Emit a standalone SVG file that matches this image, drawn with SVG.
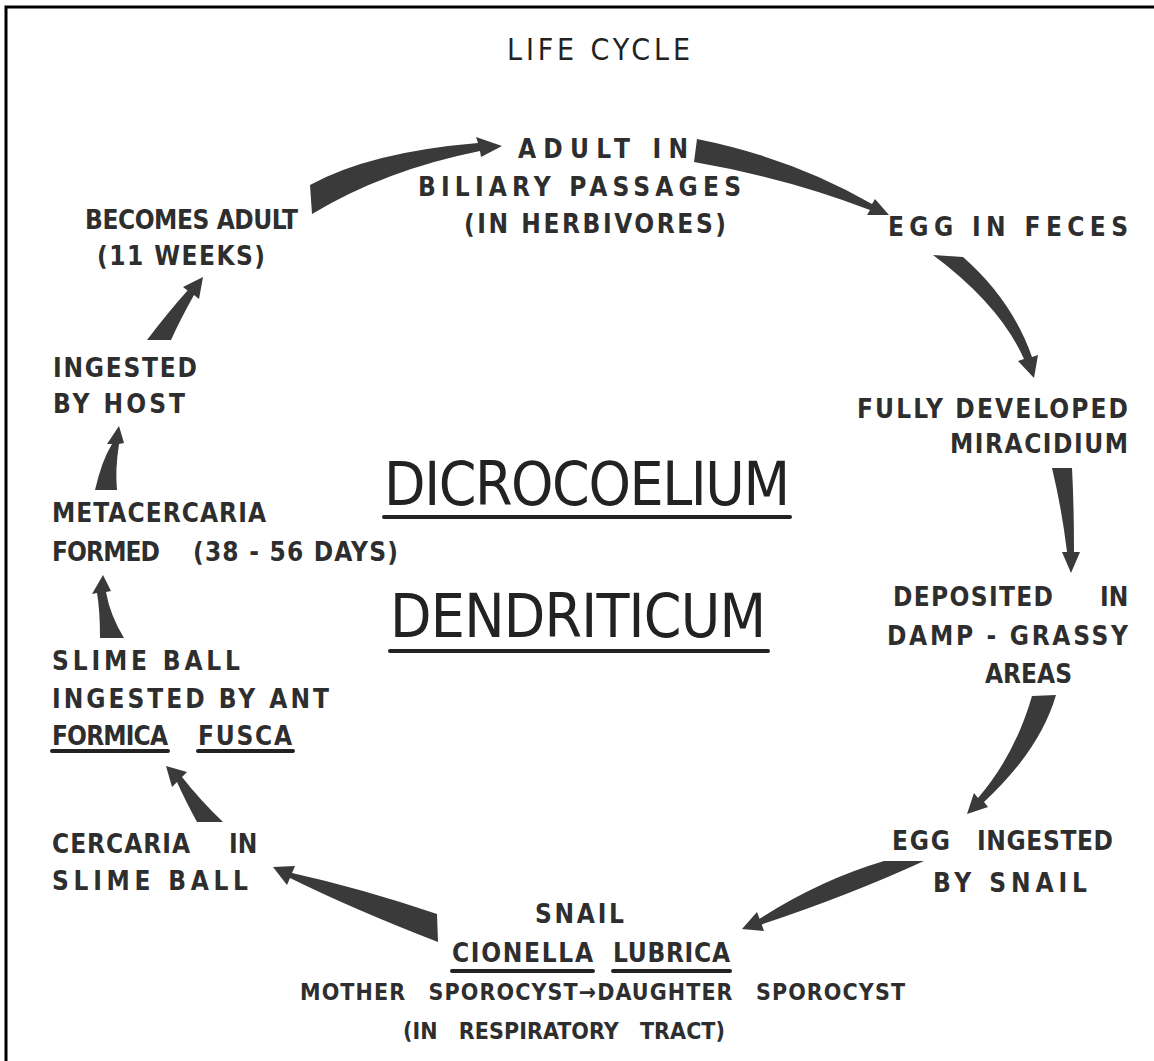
<svg xmlns="http://www.w3.org/2000/svg" width="1154" height="1061" viewBox="0 0 1154 1061">
<style>
.lbl{font-family:"DejaVu Sans Condensed","DejaVu Sans",sans-serif;font-weight:bold;font-size:26px;fill:#2e2e2e}
.sm{font-size:23px;word-spacing:14px}
.title{font-family:"DejaVu Sans Condensed","DejaVu Sans",sans-serif;font-size:30px;fill:#222}
.big{font-family:"DejaVu Sans Condensed","DejaVu Sans",sans-serif;font-size:60px;fill:#222}
.ul{stroke:#222;stroke-width:4;stroke-linecap:round;fill:none}
.arr{fill:#3a3a3a}
</style>
<rect width="1154" height="1061" fill="#fff"/>
<path d="M6,1061 V7 H1154" fill="none" stroke="#000" stroke-width="3"/>

<g id="title"><text class="title" x="507" y="60" textLength="183">LIFE CYCLE</text></g>

<g id="adult">
<text class="lbl" x="518" y="158" textLength="170">ADULT IN</text>
<text class="lbl" x="418" y="196" textLength="323">BILIARY PASSAGES</text>
<text class="lbl" x="464" y="233" textLength="262">(IN HERBIVORES)</text>
</g>
<g id="becomes-adult">
<text class="lbl" x="85" y="229" textLength="213">BECOMES ADULT</text>
<text class="lbl" x="97" y="265" textLength="168">(11 WEEKS)</text>
</g>
<g id="egg-feces"><text class="lbl" x="888" y="236" textLength="240">EGG IN FECES</text></g>
<g id="miracidium">
<text class="lbl" x="857" y="418" textLength="271">FULLY DEVELOPED</text>
<text class="lbl" x="950" y="453" textLength="178">MIRACIDIUM</text>
</g>
<g id="deposited">
<text class="lbl" y="606"><tspan x="893" textLength="160">DEPOSITED</tspan><tspan x="1100">IN</tspan></text>
<text class="lbl" x="887" y="645" textLength="241">DAMP - GRASSY</text>
<text class="lbl" x="985" y="683" textLength="87">AREAS</text>
</g>
<g id="egg-ingested">
<text class="lbl" y="850"><tspan x="892" textLength="58">EGG</tspan><tspan x="977" textLength="136">INGESTED</tspan></text>
<text class="lbl" x="933" y="892" textLength="154">BY SNAIL</text>
</g>
<g id="snail">
<text class="lbl" x="535" y="923" textLength="89">SNAIL</text>
<text class="lbl" y="962"><tspan x="452" textLength="141">CIONELLA</tspan><tspan x="613" textLength="117">LUBRICA</tspan></text>
<path class="ul" d="M452,971 H593 M613,971 H730"/>
<text class="lbl sm" x="300" y="1000" textLength="605">MOTHER SPOROCYST→DAUGHTER SPOROCYST</text>
<text class="lbl sm" x="403" y="1039" textLength="322">(IN RESPIRATORY TRACT)</text>
</g>
<g id="cercaria">
<text class="lbl" y="853"><tspan x="52" textLength="138">CERCARIA</tspan><tspan x="229">IN</tspan></text>
<text class="lbl" x="52" y="890" textLength="196">SLIME BALL</text>
</g>
<g id="slime-ball-ant">
<text class="lbl" x="52" y="670" textLength="188">SLIME BALL</text>
<text class="lbl" x="52" y="708" textLength="277">INGESTED BY ANT</text>
<text class="lbl" y="745"><tspan x="52" textLength="116">FORMICA</tspan><tspan x="198" textLength="94">FUSCA</tspan></text>
<path class="ul" d="M52,751 H168 M198,751 H293"/>
</g>
<g id="metacercaria">
<text class="lbl" x="52" y="522" textLength="214">METACERCARIA</text>
<text class="lbl" y="561"><tspan x="52" textLength="108">FORMED</tspan><tspan x="193" textLength="205">(38 - 56 DAYS)</tspan></text>
</g>
<g id="ingested-host">
<text class="lbl" x="53" y="377" textLength="144">INGESTED</text>
<text class="lbl" x="53" y="413" textLength="132">BY HOST</text>
</g>
<g id="species">
<text class="big" x="384" y="505" textLength="406">DICROCOELIUM</text>
<path class="ul" d="M384,517 H790"/>
<text class="big" x="390" y="637" textLength="376">DENDRITICUM</text>
<path class="ul" d="M390,651 H768"/>
</g>

<g id="connectors">
<path class="arr" d="M310,185 Q370,152 478,143 L476,137 L502,146 L481,157 L480,151 Q385,170 312,214 Z"/>
<path class="arr" d="M697,139 Q792,158 872,204 L875,199 L889,215 L867,215 L870,210 Q787,178 694,162 Z"/>
<path class="arr" d="M933,255 Q1000,305 1024,359 L1018,361 L1034,378 L1038,355 L1032,357 Q1012,300 963,257 Z"/>
<path class="arr" d="M1052,468 Q1062,510 1067,552 L1062,552 L1071,573 L1080,552 L1074,552 Q1074,505 1072,468 Z"/>
<path class="arr" d="M1032,696 Q1015,755 978,798 L974,793 L967,814 L988,807 L984,802 Q1040,750 1056,695 Z"/>
<path class="arr" d="M884,861 Q820,880 759.5,918.8 L757,912 L742,929 L764,931 L761.7,924.4 Q850,895 924,861 Z"/>
<path class="arr" d="M437,914 Q360,888 292,873 L295,866 L273,867 L287,885 L290,878 Q355,910 438,942 Z"/>
<path class="arr" d="M197,822 Q185,800 177,782 L172,787 L166,766 L187,772 L182,777 Q200,800 223,822 Z"/>
<path class="arr" d="M100,638 Q100,610 97,593 L92,594 L103,575 L111,591 L106,592 Q110,615 124,638 Z"/>
<path class="arr" d="M95,490 Q102,460 112,444 L107,444 L119,426 L124,443 L119,444 Q115,470 117,490 Z"/>
<path class="arr" d="M147,340 Q170,310 187.6,290.6 L183,287 L203,277 L199,299 L194,295 Q180,320 171,340 Z"/>
</g>
</svg>
